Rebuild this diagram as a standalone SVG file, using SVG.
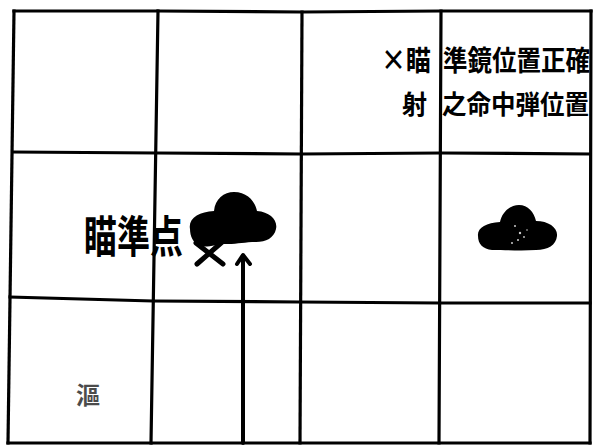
<svg xmlns="http://www.w3.org/2000/svg" width="594" height="447" viewBox="0 0 594 447">
<style>
.grid{stroke:#000;stroke-width:3.2;fill:none;stroke-linecap:square}
.conn{stroke:#000;stroke-width:4;fill:none;stroke-linecap:round;stroke-linejoin:round}
.ink{fill:#000;stroke:none}
.t{font-family:"Noto Sans CJK JP","Noto Sans CJK SC",sans-serif;font-weight:700;fill:#000}
</style>
<rect width="594" height="447" fill="#fff"/>
<g id="grid">
<polyline class="grid" points="14,11 158,11 302,12 441,11 591,11"/>
<polyline class="grid" points="13,152 157,153 301,154 441,153 590,154"/>
<polyline class="grid" points="10,297 153,301 300,302 440,303 590,303"/>
<polyline class="grid" points="8,443 151,443 300,443 439,443 590,443"/>
<line class="grid" x1="14" y1="11" x2="8" y2="443"/>
<line class="grid" x1="158" y1="11" x2="151" y2="443"/>
<line class="grid" x1="302" y1="12" x2="300" y2="443"/>
<line class="grid" x1="441" y1="11" x2="439" y2="443"/>
<line class="grid" x1="591" y1="11" x2="590" y2="443"/>
</g>
<g id="aim-mark">
<line x1="196" y1="243" x2="223" y2="264" stroke="#000" stroke-width="5" stroke-linecap="round"/>
<line x1="221" y1="243" x2="197" y2="264" stroke="#000" stroke-width="5" stroke-linecap="round"/>
</g>
<g id="target-left">
<path class="ink" d="M190,229 C188,218 199,212 214,211 C215,199 224,192 234,192 C247,192 255,201 257,211 C270,212 278,220 276,229 C274,238 266,242 256,242 C245,242 238,244 228,244 C216,244 208,248 200,246 C193,243 190,236 190,229 Z"/>
</g>
<g id="target-right">
<path class="ink" d="M478,236 C477,228 486,223 500,222 C502,212 510,205 519,205 C528,205 534,212 536,221 C549,221 558,228 557,236 C556,245 548,250 536,250 C522,251 505,250 492,250 C483,249 478,244 478,236 Z"/>
<g fill="#fff" opacity="0.8">
<circle cx="515" cy="226" r="1"/><circle cx="520" cy="233" r="1.2"/><circle cx="518" cy="240" r="1"/><circle cx="524" cy="237" r="0.9"/><circle cx="512" cy="243" r="1"/><circle cx="527" cy="230" r="0.8"/>
</g>
</g>
<g id="connectors">
<line class="conn" x1="243" y1="443" x2="243" y2="256"/>
<polyline class="conn" points="237,264 243,255 250,264" stroke-width="3"/>
</g>
<g id="label-aim">
<text class="t" font-size="33" transform="translate(84,253) scale(1,1.35)">瞄準点</text>
</g>
<g id="legend">
<text class="t" font-size="25" transform="translate(381,71) scale(1,1.15)">×瞄</text>
<text class="t" font-size="24.5" transform="translate(443,71) scale(1,1.15)">準鏡位置正確</text>
<text class="t" font-size="25" transform="translate(402,114) scale(1,1.05)">射</text>
<text class="t" font-size="24.5" transform="translate(442,114) scale(1,1.05)">之命中弾位置</text>
</g>
<g id="mark">
<text class="t" font-size="24" fill="#222" opacity="0.7" x="76" y="404">漚</text>
</g>
</svg>
